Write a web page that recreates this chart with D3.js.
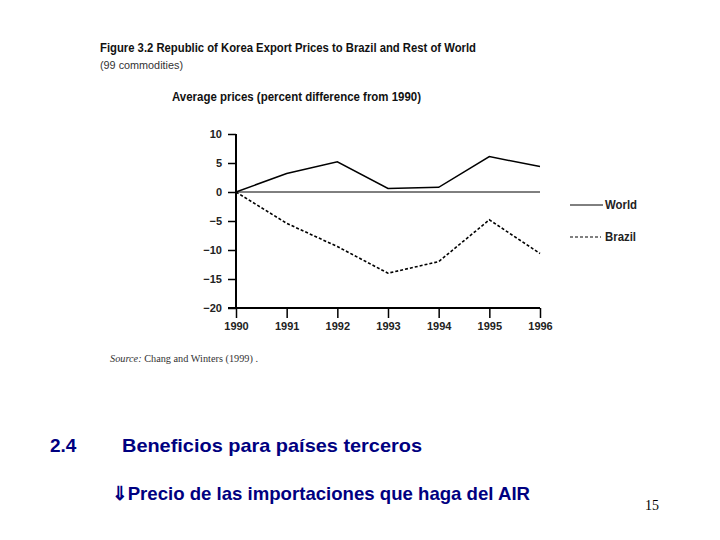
<!DOCTYPE html>
<html><head><meta charset="utf-8">
<script src="https://cdn.jsdelivr.net/npm/d3@7"></script>
<style>body{margin:0;background:#fff}svg{display:block}</style>
</head><body>
<script>
const years = [1990,1991,1992,1993,1994,1995,1996];
const world = [0,3.2,5.2,0.6,0.8,6.1,4.4];
const brazil = [0,-5.4,-9.4,-14.0,-12.0,-4.8,-10.6];
const yTicks = [10,5,0,-5,-10,-15,-20];
const seriesNames = ["World","Brazil"];

const svg = d3.select("body").append("svg").attr("width",720).attr("height",540);
const x = d3.scaleLinear().domain([1990,1996]).range([236,540]);
const y = d3.scaleLinear().domain([-20,10]).range([308,134]);
const f = "Liberation Sans, Arial, sans-serif";

function txt(t,px,py,opt){
  const e = svg.append("text").attr("x",px).attr("y",py).text(t)
    .attr("font-family",opt.family||f).attr("font-size",opt.size)
    .attr("font-weight",opt.weight||"normal").attr("fill",opt.fill||"#000");
  if(opt.len) e.attr("textLength",opt.len).attr("lengthAdjust","spacingAndGlyphs");
  if(opt.anchor) e.attr("text-anchor",opt.anchor);
  return e;
}
txt("Figure 3.2 Republic of Korea Export Prices to Brazil and Rest of World",100,52,{size:12,weight:"bold",len:376,fill:"#111"});
txt("(99 commodities)",100,69,{size:10,len:83,fill:"#333"});
txt("Average prices (percent difference from 1990)",172,101,{size:12,weight:"bold",len:249,fill:"#111"});

// axes
const yAxis = d3.axisLeft(y).tickValues(yTicks).tickSize(8).tickFormat(d=> d<0 ? "\u2212"+Math.abs(d) : d);
const gy = svg.append("g").attr("transform","translate(236,0)").call(yAxis);
gy.select(".domain").attr("stroke","#000").attr("stroke-width",2).attr("d","M0,134V309");
gy.selectAll(".tick line").attr("stroke","#000").attr("stroke-width",1.5);
gy.selectAll(".tick text").attr("font-family",f).attr("font-size",11).attr("font-weight","bold").attr("fill","#222").attr("x",-14);

const xAxis = d3.axisBottom(x).tickValues(years).tickSize(10).tickFormat(d3.format("d"));
const gx = svg.append("g").attr("transform","translate(0,308)").call(xAxis);
gx.select(".domain").attr("stroke","#000").attr("stroke-width",2).attr("d","M228,0H540");
gx.selectAll(".tick line").attr("stroke","#000").attr("stroke-width",1.5);
gx.selectAll(".tick text").attr("font-family",f).attr("font-size",11).attr("font-weight","bold").attr("fill","#222").attr("y",14);

// zero line
svg.append("line").attr("x1",x(1990)).attr("x2",x(1996)).attr("y1",y(0)).attr("y2",y(0))
  .attr("stroke","#000").attr("stroke-width",1);

const line = d3.line().x((d,i)=>x(years[i])).y(d=>y(d));
svg.append("path").datum(world).attr("d",line).attr("fill","none").attr("stroke","#000").attr("stroke-width",1.5);
svg.append("path").datum(brazil).attr("d",line).attr("fill","none").attr("stroke","#000").attr("stroke-width",1.6).attr("stroke-dasharray","3,2");

// legend
svg.append("line").attr("x1",570).attr("x2",603).attr("y1",205).attr("y2",205).attr("stroke","#000").attr("stroke-width",1);
svg.append("line").attr("x1",570).attr("x2",601).attr("y1",237).attr("y2",237).attr("stroke","#000").attr("stroke-width",1).attr("stroke-dasharray","3,2");
txt(seriesNames[0],605,209,{size:12,weight:"bold",len:32,fill:"#222"});
txt(seriesNames[1],605,241,{size:12,weight:"bold",len:31,fill:"#222"});

// source
const s = svg.append("text").attr("x",110).attr("y",362).attr("font-family","Liberation Serif, Times New Roman, serif").attr("font-size",10).attr("fill","#333")
  .attr("textLength",148).attr("lengthAdjust","spacingAndGlyphs");
s.append("tspan").attr("font-style","italic").text("Source:");
s.append("tspan").text(" Chang and Winters (1999) .");

// slide text
const navy = "#000080";
txt("2.4",50,452,{size:19,weight:"bold",fill:navy});
txt("Beneficios para países terceros",122,452,{size:19,weight:"bold",fill:navy,len:300});
txt("\u21D3Precio de las importaciones que haga del AIR",112,500,{size:19,weight:"bold",fill:navy,len:418});
txt("15",645,510,{size:14,family:"Liberation Serif, Times New Roman, serif",fill:"#000"});
</script>
</body></html>
